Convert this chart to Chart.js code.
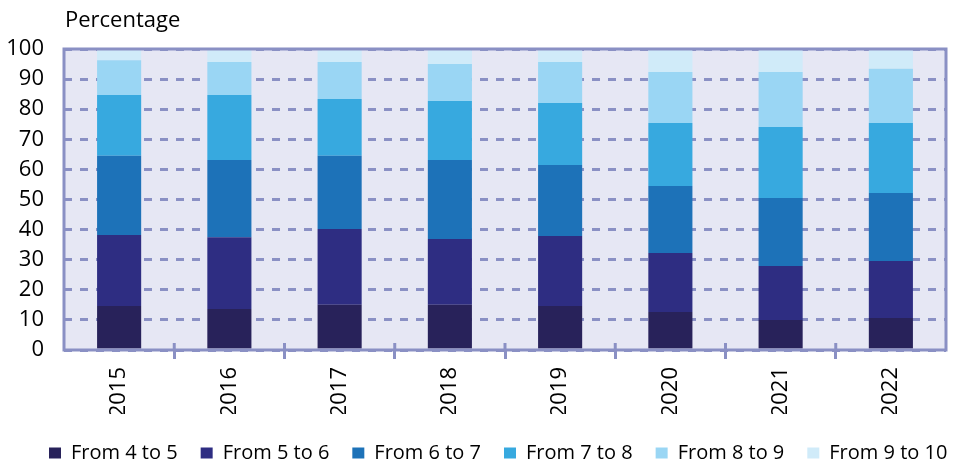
<!DOCTYPE html>
<html>
<head>
<meta charset="utf-8">
<script src="https://cdn.jsdelivr.net/npm/chart.js@4/dist/chart.umd.min.js"></script>
<style>
  html, body { margin: 0; padding: 0; background: #ffffff; }
  #wrap { width: 963px; height: 463px; position: relative; }
</style>
</head>
<body>
<div id="wrap"><canvas id="c" width="963" height="463"></canvas></div>
<script>
// Share of respondents by score band, per year (percent)
const years = ['2015', '2016', '2017', '2018', '2019', '2020', '2021', '2022'];
const from4to5  = [14.6, 13.6, 15.0, 15.0, 14.6, 12.6, 10.0, 10.6];
const from5to6  = [23.6, 23.9, 25.2, 21.9, 23.3, 19.6, 17.9, 19.0];
const from6to7  = [26.3, 25.6, 24.3, 26.2, 23.6, 22.3, 22.6, 22.6];
const from7to8  = [20.2, 21.6, 18.9, 19.6, 20.6, 20.9, 23.6, 23.2];
const from8to9  = [11.6, 11.0, 12.3, 12.3, 13.6, 17.0, 18.3, 18.0];
const from9to10 = [3.7, 4.3, 4.3, 5.0, 4.3, 7.6, 7.6, 6.6];
const seriesLabels = ['From 4 to 5', 'From 5 to 6', 'From 6 to 7', 'From 7 to 8', 'From 8 to 9', 'From 9 to 10'];
const yTicks = [0, 10, 20, 30, 40, 50, 60, 70, 80, 90, 100];
const axisTitle = 'Percentage';

const colours = ['#28225A', '#2E2D82', '#1D72B8', '#37A9DF', '#9AD6F4', '#D0EBF9'];
const frame = '#8A90C4';
const FONT = '"Open Sans", "Noto Sans", sans-serif';

const seriesValues = [from4to5, from5to6, from6to7, from7to8, from8to9, from9to10];
const datasets = seriesValues.map((vals, i) => ({
  label: seriesLabels[i],
  data: vals,
  backgroundColor: colours[i],
  borderWidth: 0,
  barPercentage: 0.4,
  categoryPercentage: 1.0,
  stack: 'all'
}));

// Plot background, frame, axis title and legend offset
const plotFrame = {
  id: 'plotFrame',
  afterLayout(chart) {
    // nudge the legend row under the y-axis labels and towards the bottom edge
    const lg = chart.legend;
    if (lg) {
      lg.left += 26; lg.right += 26;
      lg.top += 6; lg.bottom += 6;
    }
  },
  beforeDraw(chart) {
    const { ctx, chartArea: a } = chart;
    ctx.save();
    ctx.fillStyle = '#E6E7F4';
    ctx.fillRect(a.left, a.top, a.right - a.left, a.bottom - a.top);
    ctx.restore();
  },
  afterDatasetsDraw(chart) {
    const { ctx, chartArea: a } = chart;
    ctx.save();
    ctx.strokeStyle = frame;
    ctx.lineWidth = 3;
    ctx.strokeRect(a.left, a.top, a.right - a.left, a.bottom - a.top);
    // category separators cross the bottom edge of the frame
    const xs = chart.scales.x;
    for (let i = 1; i < years.length; i++) {
      const px = (xs.getPixelForTick(i - 1) + xs.getPixelForTick(i)) / 2;
      ctx.beginPath();
      ctx.moveTo(px, a.bottom - 7);
      ctx.lineTo(px, a.bottom);
      ctx.stroke();
    }
    ctx.restore();
  },
  afterDraw(chart) {
    const { ctx, chartArea: a } = chart;
    ctx.save();
    ctx.fillStyle = '#000000';
    ctx.font = '22px ' + FONT;
    ctx.textBaseline = 'alphabetic';
    ctx.textAlign = 'left';
    ctx.fillText(axisTitle, a.left + 1, 27);
    ctx.restore();
  }
};

new Chart(document.getElementById('c'), {
  type: 'bar',
  data: { labels: years, datasets },
  plugins: [plotFrame],
  options: {
    responsive: false,
    animation: false,
    layout: { padding: { top: 49, right: 17, left: 0, bottom: -4 } },
    plugins: {
      tooltip: { enabled: false },
      legend: {
        position: 'bottom',
        align: 'start',
        labels: {
          boxWidth: 12,
          boxHeight: 11,
          padding: 23,
          color: '#000000',
          font: { family: FONT, size: 20 }
        }
      }
    },
    scales: {
      x: {
        stacked: true,
        border: { display: false },
        grid: {
          offset: true,
          drawOnChartArea: false,
          drawTicks: true,
          tickLength: 9,
          tickWidth: 3,
          // only the inner separators get a tick mark
          tickColor: (c) => (c.index >= 1 && c.index < years.length) ? frame : 'rgba(0,0,0,0)'
        },
        ticks: {
          color: '#000000',
          minRotation: 90,
          maxRotation: 90,
          padding: 8,
          font: { family: FONT, size: 22 }
        },
        afterFit(scale) { scale.height = 64; }
      },
      y: {
        stacked: true,
        min: 0,
        max: 100,
        border: { display: false, dash: [8, 8] },
        afterBuildTicks(scale) { scale.ticks = yTicks.map(v => ({ value: v })); },
        grid: {
          drawTicks: false,
          color: frame,
          lineWidth: 3
        },
        ticks: {
          color: '#000000',
          padding: 20,
          autoSkip: false,
          font: { family: FONT, size: 22 }
        },
        afterFit(scale) { scale.width = 64; }
      }
    }
  }
});
</script>
</body>
</html>
